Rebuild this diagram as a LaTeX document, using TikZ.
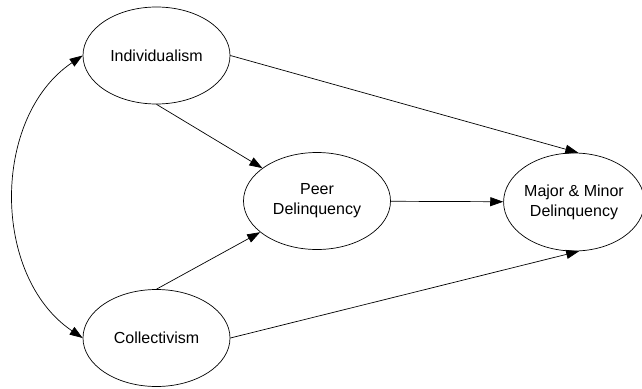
\documentclass[tikz,border=0pt]{standalone}
\usepackage{fontspec}
\setmainfont{Liberation Sans}
\usepackage{tikz}
\usetikzlibrary{shapes.geometric, arrows.meta}

\begin{document}
\begin{tikzpicture}[x=1pt, y=-1pt,
		construct/.style={draw, ellipse, line width=.7pt, inner sep=0pt, minimum width=147pt, minimum height=97pt, align=center, font=\fontsize{16}{20}\selectfont},
		path/.style={draw, line width=.7pt, -{Triangle[length=13pt, width=9pt]}}]
				\useasboundingbox (0,0) rectangle (642,388);
				\node[construct] (indiv) at (156.5,55.5) {Individualism};
				\node[construct] (coll) at (156.5,338) {Collectivism};
				\node[construct] (peer) at (317,201) {Peer\\Delinquency};
				\node[construct, minimum width=134pt, minimum height=98pt] (delinq) at (574,202) {Major \& Minor\\Delinquency};
				\draw[path, {Triangle[length=13pt, width=9pt]}-{Triangle[length=13pt, width=9pt]}] (indiv.west) to[bend right=56] (coll.west);
				\draw[path] (indiv.east) -- (delinq.85);
				\draw[path] (indiv.south) -- (peer);
				\draw[path] (coll.north) -- (peer);
				\draw[path] (coll.east) -- (delinq.276);
				\draw[path] (peer) -- (delinq);
			\end{tikzpicture}
\end{document}
